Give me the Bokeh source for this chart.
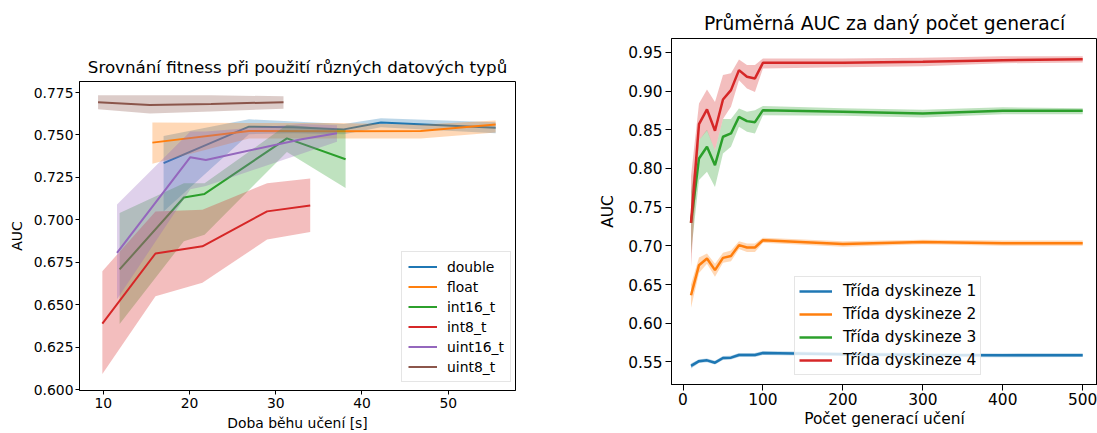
from bokeh.plotting import figure
from bokeh.layouts import row, column
from bokeh.models import FixedTicker, PrintfTickFormatter, Range1d, Legend, LegendItem, Div
from bokeh.embed import file_html
from bokeh.resources import INLINE

FONT = "DejaVu Sans"
COLORS = ["#1f77b4", "#ff7f0e", "#2ca02c", "#d62728", "#9467bd", "#8c564b"]

# ---------------- left chart data ----------------
left_names = ["double", "float", "int16_t", "int8_t", "uint16_t", "uint8_t"]

double_x = [17.0, 26.9, 32.1, 37.9, 42.2, 55.5]
double_y = [0.7334, 0.7549, 0.7545, 0.7533, 0.7574, 0.7543]
double_lo = [0.705, 0.7505, 0.751, 0.7505, 0.7545, 0.751]
double_hi = [0.7494, 0.7592, 0.758, 0.7565, 0.7598, 0.7575]

float_x = [15.7, 26.9, 37.0, 46.8, 55.5]
float_y = [0.7455, 0.7523, 0.7522, 0.7523, 0.7562]
float_lo = [0.733, 0.748, 0.748, 0.748, 0.7515]
float_hi = [0.7574, 0.757, 0.757, 0.756, 0.7585]

int16_x = [11.9, 19.35, 21.75, 31.3, 38.1]
int16_y = [0.6708, 0.7132, 0.7153, 0.748, 0.7357]
int16_lo = [0.6386, 0.6874, 0.6913, 0.740, 0.7188]
int16_hi = [0.704, 0.7216, 0.7216, 0.756, 0.753]

int8_x = [9.9, 16.06, 21.5, 29.0, 34.0]
int8_y = [0.6389, 0.6802, 0.6844, 0.705, 0.7085]
int8_lo = [0.6092, 0.655, 0.663, 0.6884, 0.6929]
int8_hi = [0.6698, 0.705, 0.706, 0.7216, 0.7244]

uint16_x = [11.6, 20.1, 21.9, 33.0, 37.1]
uint16_y = [0.6806, 0.7369, 0.7353, 0.7475, 0.751]
uint16_lo = [0.6532, 0.718, 0.72, 0.739, 0.746]
uint16_hi = [0.709, 0.752, 0.752, 0.7565, 0.7557]

uint8_x = [9.4, 15.4, 22.5, 30.9]
uint8_y = [0.7693, 0.7676, 0.7683, 0.7693]
uint8_lo = [0.7652, 0.7627, 0.7638, 0.7655]
uint8_hi = [0.7734, 0.7734, 0.7734, 0.7728]

left_x_ticks = [10, 20, 30, 40, 50]
left_y_ticks = [0.600, 0.625, 0.650, 0.675, 0.700, 0.725, 0.750, 0.775]

# ---------------- right chart data ----------------
right_names = ["Třída dyskineze 1", "Třída dyskineze 2", "Třída dyskineze 3", "Třída dyskineze 4"]
gen_x = [10, 20, 30, 40, 50, 60, 70, 80, 90, 100, 200, 300, 400, 500]

c1_y = [0.5448, 0.551, 0.552, 0.549, 0.555, 0.5555, 0.559, 0.559, 0.559, 0.5616, 0.560, 0.559, 0.5585, 0.5587]
c1_lo = [0.5415, 0.5485, 0.5495, 0.5465, 0.5525, 0.553, 0.5565, 0.5565, 0.5565, 0.559, 0.5575, 0.5565, 0.556, 0.5562]
c1_hi = [0.548, 0.5535, 0.5545, 0.5515, 0.5575, 0.558, 0.5615, 0.5615, 0.5615, 0.5642, 0.5625, 0.5615, 0.561, 0.5612]

c2_y = [0.6362, 0.675, 0.6837, 0.6686, 0.6845, 0.687, 0.7009, 0.6979, 0.6979, 0.7073, 0.7025, 0.705, 0.7035, 0.7035]
c2_lo = [0.620, 0.665, 0.677, 0.660, 0.678, 0.680, 0.696, 0.692, 0.692, 0.704, 0.699, 0.702, 0.700, 0.700]
c2_hi = [0.650, 0.685, 0.690, 0.677, 0.691, 0.694, 0.706, 0.703, 0.703, 0.7105, 0.706, 0.708, 0.707, 0.707]

c3_y = [0.7297, 0.813, 0.828, 0.8043, 0.841, 0.8453, 0.8667, 0.8612, 0.8599, 0.8754, 0.8732, 0.8711, 0.8745, 0.8745]
c3_lo = [0.690, 0.785, 0.7957, 0.776, 0.8194, 0.828, 0.8538, 0.8474, 0.8453, 0.8689, 0.868, 0.866, 0.870, 0.870]
c3_hi = [0.770, 0.8366, 0.850, 0.8237, 0.8638, 0.8638, 0.8776, 0.8732, 0.8754, 0.8806, 0.878, 0.876, 0.879, 0.878]

c4_y = [0.7297, 0.8573, 0.8763, 0.8487, 0.8892, 0.9013, 0.9271, 0.9185, 0.9164, 0.9366, 0.9365, 0.9379, 0.940, 0.9413]
c4_lo = [0.673, 0.8366, 0.849, 0.8237, 0.8638, 0.8797, 0.914, 0.9034, 0.899, 0.9293, 0.931, 0.932, 0.936, 0.937]
c4_hi = [0.790, 0.884, 0.902, 0.886, 0.9207, 0.923, 0.941, 0.9336, 0.9336, 0.942, 0.942, 0.943, 0.945, 0.945]

right_x_ticks = [0, 100, 200, 300, 400, 500]
right_y_ticks = [0.55, 0.60, 0.65, 0.70, 0.75, 0.80, 0.85, 0.90, 0.95]


def style(p, tick_size, label_size, tick_len, title_size):
    p.outline_line_color = "black"
    p.outline_line_width = 1
    p.xgrid.visible = False
    p.ygrid.visible = False
    p.background_fill_color = "white"
    p.border_fill_color = "white"
    for ax in (p.xaxis[0], p.yaxis[0]):
        ax.major_tick_out = tick_len
        ax.major_tick_in = 0
        ax.minor_tick_out = 0
        ax.minor_tick_in = 0
        ax.major_tick_line_color = "black"
        ax.axis_line_color = "black"
        ax.major_label_text_font = FONT
        ax.major_label_text_font_size = tick_size
        ax.major_label_text_color = "black"
        ax.axis_label_text_font = FONT
        ax.axis_label_text_font_size = label_size
        ax.axis_label_text_font_style = "normal"
        ax.axis_label_text_color = "black"
    p.title.text_font = FONT
    p.title.text_font_size = title_size
    p.title.text_font_style = "normal"
    p.title.align = "center"
    p.title.text_color = "black"


# ---------------- left figure ----------------
p1 = figure(width=596, height=433, output_backend="svg", toolbar_location=None,
            x_range=Range1d(7.25, 57.8), y_range=Range1d(0.5995, 0.7815),
            title="Srovnání fitness při použití různých datových typů",
            min_border_left=79, min_border_right=81, min_border_top=81, min_border_bottom=42)
p1.xaxis.axis_label = "Doba běhu učení [s]"
p1.yaxis.axis_label = "AUC"
p1.xaxis.ticker = FixedTicker(ticks=left_x_ticks)
p1.yaxis.ticker = FixedTicker(ticks=left_y_ticks)
p1.xaxis.formatter = PrintfTickFormatter(format="%d")
p1.yaxis.formatter = PrintfTickFormatter(format="%.3f")
style(p1, "13.9px", "13.9px", 4, "16.7px")
p1.xaxis.major_label_standoff = 3
p1.yaxis.major_label_standoff = 2
p1.xaxis.axis_label_standoff = 4
p1.yaxis.axis_label_standoff = 6

left_series = [
    (double_x, double_y, double_lo, double_hi),
    (float_x, float_y, float_lo, float_hi),
    (int16_x, int16_y, int16_lo, int16_hi),
    (int8_x, int8_y, int8_lo, int8_hi),
    (uint16_x, uint16_y, uint16_lo, uint16_hi),
    (uint8_x, uint8_y, uint8_lo, uint8_hi),
]
items1 = []
for (xs, ys, lo, hi), name, col in zip(left_series, left_names, COLORS):
    r = p1.line(xs, ys, line_color=col, line_width=2)
    p1.varea(x=xs, y1=lo, y2=hi, fill_color=col, fill_alpha=0.3)
    items1.append(LegendItem(label=name, renderers=[r]))

leg1 = Legend(items=items1, location=(322, 8))
p1.add_layout(leg1)

# ---------------- right figure ----------------
p2 = figure(width=501, height=433, output_backend="svg", toolbar_location=None,
            x_range=Range1d(-14.4, 518.5), y_range=Range1d(0.5208, 0.968),
            title="Průměrná AUC za daný počet generací",
            min_border_left=68, min_border_right=0, min_border_top=38, min_border_bottom=49)
p2.xaxis.axis_label = "Počet generací učení"
p2.yaxis.axis_label = "AUC"
p2.xaxis.ticker = FixedTicker(ticks=right_x_ticks)
p2.yaxis.ticker = FixedTicker(ticks=right_y_ticks)
p2.xaxis.formatter = PrintfTickFormatter(format="%d")
p2.yaxis.formatter = PrintfTickFormatter(format="%.2f")
style(p2, "15.4px", "15.4px", 6, "18.7px")
p2.xaxis.major_label_standoff = 2
p2.yaxis.major_label_standoff = 3
p2.xaxis.axis_label_standoff = 2
p2.yaxis.axis_label_standoff = 8

right_series = [
    (c1_y, c1_lo, c1_hi),
    (c2_y, c2_lo, c2_hi),
    (c3_y, c3_lo, c3_hi),
    (c4_y, c4_lo, c4_hi),
]
items2 = []
for (ys, lo, hi), name, col in zip(right_series, right_names, COLORS):
    r = p2.line(gen_x, ys, line_color=col, line_width=2.5)
    p2.varea(x=gen_x, y1=lo, y2=hi, fill_color=col, fill_alpha=0.3)
    items2.append(LegendItem(label=name, renderers=[r]))

leg2 = Legend(items=items2, location=(123, 9))
p2.add_layout(leg2)

for lg, fs, gw, gh, sp, pad, st in ((leg1, "13.9px", 29, 17, 3, 6, 10),
                                    (leg2, "15.4px", 33, 20, 3, 4, 11)):
    lg.label_text_font = FONT
    lg.label_text_font_size = fs
    lg.label_text_color = "black"
    lg.glyph_width = gw
    lg.glyph_height = gh
    lg.label_height = gh
    lg.spacing = sp
    lg.padding = pad
    lg.margin = 0
    lg.label_standoff = st
    lg.border_line_color = "#cccccc"
    lg.border_line_width = 1
    lg.background_fill_color = "white"
    lg.background_fill_alpha = 0.8

col1 = column(p1, Div(text="", width=0, height=0), spacing=0)
col2 = column(p2, Div(text="", width=0, height=0), spacing=0)
layout = row(col1, col2, spacing=0)
open("out.html", "w").write(file_html(layout, INLINE))
